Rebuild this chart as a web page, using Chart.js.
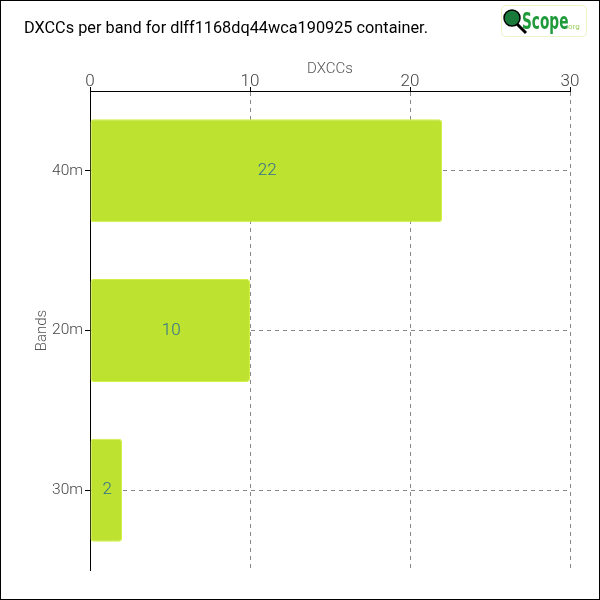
<!DOCTYPE html>
<html><head><meta charset="utf-8">
<script src="https://cdn.jsdelivr.net/npm/chart.js@4"></script>
<style>html,body{margin:0;padding:0;background:#fff}#w{width:600px;height:600px;position:relative}</style>
</head><body><div id="w"><canvas id="c" width="600" height="600"></canvas></div>
<script>
const titleText = "DXCCs per band for dlff1168dq44wca190925 container.";
const bands = ["40m", "20m", "30m"];
const dxccs = [22, 10, 2];
const xTicks = [0, 10, 20, 30];
const xTitle = "DXCCs";
const yTitle = "Bands";

const FONT = "Roboto, 'DejaVu Sans Condensed', sans-serif";

const decor = {
  id: 'decor',
  afterDraw(chart) {
    const ctx = chart.ctx;
    ctx.save();
    ctx.strokeStyle = '#000'; ctx.lineWidth = 1;
    ctx.strokeRect(0.5, 0.5, 599, 599);
    ctx.fillStyle = '#000';
    ctx.font = "16.3px " + FONT;
    ctx.textBaseline = 'alphabetic';
    ctx.textAlign = 'left';
    ctx.fillText(titleText, 24, 33);
    // logo
    ctx.strokeStyle = '#eef2c8'; ctx.lineWidth = 1;
    ctx.beginPath(); ctx.roundRect(501.5, 5.5, 85, 31, 4); ctx.stroke();
    ctx.strokeStyle = '#000'; ctx.lineWidth = 3;
    ctx.beginPath(); ctx.moveTo(517, 24); ctx.lineTo(526, 33); ctx.stroke();
    ctx.fillStyle = '#1a7a3a';
    ctx.beginPath(); ctx.arc(512, 18, 8, 0, Math.PI*2); ctx.fill();
    ctx.strokeStyle = '#000'; ctx.lineWidth = 1.5; ctx.stroke();
    ctx.fillStyle = '#1f9a3a';
    ctx.save();
    ctx.translate(522, 29); ctx.scale(0.8, 1.2);
    ctx.font = "bold 19px 'DejaVu Sans Condensed', sans-serif";
    ctx.fillText("Scope", 0, 0);
    ctx.restore();
    ctx.fillStyle = '#9ccf5a';
    ctx.font = "8px " + FONT;
    ctx.fillText(".org", 566, 29);
    // value labels
    const meta = chart.getDatasetMeta(0);
    ctx.fillStyle = '#2f6f8f';
    ctx.font = "300 17px " + FONT;
    ctx.textAlign = 'center'; ctx.textBaseline = 'middle';
    meta.data.forEach((bar, i) => {
      ctx.fillText(String(chart.data.datasets[0].data[i]), (bar.base + bar.x) / 2 + 1, bar.y);
    });
    ctx.restore();
  }
};

new Chart(document.getElementById('c'), {
  type: 'bar',
  data: {
    labels: bands,
    datasets: [{
      data: dxccs,
      backgroundColor: '#bde22f',
      borderColor: '#d2ef45',
      borderWidth: 1,
      borderSkipped: false,
      borderRadius: 3,
      categoryPercentage: 1,
      barPercentage: 0.645
    }]
  },
  options: {
    indexAxis: 'y',
    responsive: false,
    animation: false,
    devicePixelRatio: 1,
    layout: { padding: { top: 40, right: 30, bottom: 30, left: 0 } },
    plugins: { legend: { display: false }, tooltip: { enabled: false }, title: { display: false } },
    scales: {
      x: {
        type: 'linear', position: 'top', min: 0, max: 30,
        afterBuildTicks(s) { s.ticks = xTicks.map(v => ({ value: v })); },
        afterFit(s) { s.height = 51; },
        ticks: { color: '#444', font: { family: FONT, size: 17, weight: 300 }, padding: -5, maxRotation: 0 },
        title: { display: true, text: xTitle, color: '#555', font: { family: FONT, size: 15, weight: 300 }, padding: { top: 20, bottom: 0 } },
        grid: { color: '#888', tickColor: '#000', tickLength: 4 },
        border: { display: true, color: '#000', width: 1, dash: [4, 4] }
      },
      y: {
        position: 'left',
        afterFit(s) { s.width = 90; },
        ticks: { color: '#444', font: { family: FONT, size: 15.5, weight: 300 }, padding: 2 },
        title: { display: true, text: yTitle, color: '#555', font: { family: FONT, size: 15, weight: 300 }, padding: { top: 33, bottom: 0 } },
        grid: { offset: false, color: '#888', tickColor: '#000', tickLength: 5 },
        border: { display: true, color: '#000', width: 1, dash: [4, 4] }
      }
    }
  },
  plugins: [decor]
});
</script>
</body></html>
